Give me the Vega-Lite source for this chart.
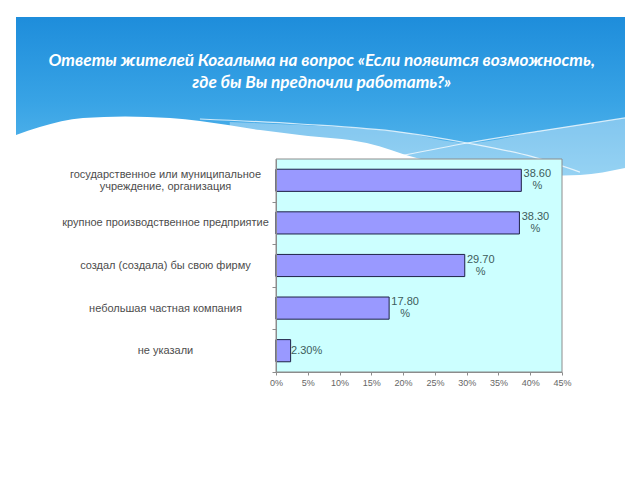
{
  "$schema": "https://vega.github.io/schema/vega-lite/v6.json",
  "width": 286,
  "height": 213,
  "autosize": "none",
  "padding": {"left": 276, "top": 159, "right": 78, "bottom": 108},
  "background": "white",
  "config": {"view": {"stroke": null}},
  "resolve": {"scale": {"x": "independent", "y": "independent"}, "axis": {"x": "independent", "y": "independent"}},
  "layer": [
    {
      "data": {"values": [{}]},
      "mark": {"type": "rect", "fill": {"gradient": "linear", "x1": 0, "y1": 0, "x2": 0, "y2": 1, "stops": [{"offset": 0, "color": "#1E8DDB"}, {"offset": 0.5, "color": "#38A3E5"}, {"offset": 1, "color": "#62BDEE"}]}},
      "encoding": {
        "x": {"datum": 0, "type": "quantitative", "scale": {"domain": [0, 100], "range": [-260, 349], "nice": false, "zero": false}, "axis": null},
        "x2": {"datum": 100},
        "y": {"datum": 0, "type": "quantitative", "scale": {"domain": [0, 100], "range": [-142, 26], "nice": false, "zero": false}, "axis": null},
        "y2": {"datum": 100}
      }
    },
    {
      "data": {"values": [
        {"x": 35.1, "y": 62.5}, {"x": 46.6, "y": 64.3}, {"x": 63.1, "y": 68.5}, {"x": 74.1, "y": 75},
        {"x": 86, "y": 67.9}, {"x": 100, "y": 60.1}
      ]},
      "mark": {"type": "area", "fill": "white", "fillOpacity": 0.35, "interpolate": "monotone"},
      "encoding": {
        "x": {"field": "x", "type": "quantitative", "scale": {"domain": [0, 100], "range": [-260, 349], "nice": false, "zero": false}, "axis": null},
        "y": {"field": "y", "type": "quantitative", "scale": {"domain": [0, 100], "range": [-142, 26], "nice": false, "zero": false}, "axis": null},
        "y2": {"datum": 100}
      }
    },
    {
      "data": {"values": [
        {"s": "a", "x": 30.2, "y": 60.7}, {"s": "a", "x": 46.6, "y": 63.7}, {"s": "a", "x": 63.1, "y": 68.5}, {"s": "a", "x": 74.1, "y": 75}, {"s": "a", "x": 84.9, "y": 83.3}, {"s": "a", "x": 92.6, "y": 92.3},
        {"s": "b", "x": 63.1, "y": 82.7}, {"s": "b", "x": 74.1, "y": 75}, {"s": "b", "x": 86, "y": 67.9}, {"s": "b", "x": 100, "y": 60.1}
      ]},
      "mark": {"type": "line", "stroke": "white", "strokeOpacity": 0.75, "strokeWidth": 1.2, "interpolate": "monotone"},
      "encoding": {
        "x": {"field": "x", "type": "quantitative", "scale": {"domain": [0, 100], "range": [-260, 349], "nice": false, "zero": false}, "axis": null},
        "y": {"field": "y", "type": "quantitative", "scale": {"domain": [0, 100], "range": [-142, 26], "nice": false, "zero": false}, "axis": null},
        "detail": {"field": "s", "type": "nominal"}
      }
    },
    {
      "data": {"values": [
        {"x": 0, "y": 70.2}, {"x": 3.9, "y": 65.5}, {"x": 11.0, "y": 60.1}, {"x": 17.9, "y": 59.2}, {"x": 25.3, "y": 60.1},
        {"x": 30.2, "y": 61.9}, {"x": 40.1, "y": 67.3}, {"x": 46.6, "y": 70.2}, {"x": 57.6, "y": 75}, {"x": 65.8, "y": 83.9},
        {"x": 74.5, "y": 89.9}, {"x": 84.4, "y": 94.6}, {"x": 92.6, "y": 94}, {"x": 100, "y": 89.9}
      ]},
      "mark": {"type": "area", "fill": "white", "interpolate": "monotone"},
      "encoding": {
        "x": {"field": "x", "type": "quantitative", "scale": {"domain": [0, 100], "range": [-260, 349], "nice": false, "zero": false}, "axis": null},
        "y": {"field": "y", "type": "quantitative", "scale": {"domain": [0, 100], "range": [-142, 26], "nice": false, "zero": false}, "axis": null},
        "y2": {"datum": 100}
      }
    },
    {
      "data": {"values": [{"t": "Ответы жителей Когалыма на вопрос  «Если появится возможность,\nгде бы Вы предпочли работать?»"}]},
      "mark": {"type": "text", "lineBreak": "\n", "lineHeight": 22, "align": "center", "baseline": "middle", "font": "Lato", "fontStyle": "italic", "fontWeight": "bold", "fontSize": 17.2, "color": "white"},
      "encoding": {
        "x": {"datum": 50.2, "type": "quantitative", "scale": {"domain": [0, 100], "range": [-260, 349], "nice": false, "zero": false}, "axis": null},
        "y": {"datum": 26.2, "type": "quantitative", "scale": {"domain": [0, 100], "range": [-142, 26], "nice": false, "zero": false}, "axis": null},
        "text": {"field": "t", "type": "nominal"}
      }
    },
    {
      "data": {"values": [{}]},
      "mark": {"type": "rect", "fill": "#CCFFFF", "stroke": "#8c8c8c", "strokeWidth": 1},
      "encoding": {
        "x": {"datum": 0, "type": "quantitative", "scale": {"domain": [0, 45], "nice": false}, "axis": null},
        "x2": {"datum": 45}
      }
    },
    {
      "data": {"name": "bars"},
      "mark": {"type": "bar", "fill": "#9999FF", "stroke": "#1f2347", "strokeWidth": 1},
      "encoding": {
        "y": {"field": "cat", "type": "nominal", "sort": null,
          "scale": {"paddingInner": 0.48, "paddingOuter": 0.24},
          "axis": {"title": null, "zindex": 2, "labelExpr": "split(datum.label, '|')", "labelAlign": "center", "labelBaseline": "middle",
            "labelOffset": {"condition": {"test": "indexof(datum.value, '|') >= 0", "value": -27.3}, "value": -21.3},
            "labelPadding": 107, "labelLimit": 0, "labelFont": "Liberation Sans", "labelFontSize": 11, "labelColor": "#4d4d4d", "labelLineHeight": 12.5,
            "tickOffset": 21.3, "tickSize": 4, "tickColor": "#8c8c8c", "domainColor": "#8c8c8c"}},
        "x": {"field": "value", "type": "quantitative",
          "scale": {"domain": [0, 45], "nice": false},
          "axis": {"title": null, "zindex": 2, "values": [0, 5, 10, 15, 20, 25, 30, 35, 40, 45], "labelExpr": "datum.value + '%'", "labelOverlap": false, "labelFlush": false, "grid": false, "labelFont": "Liberation Sans", "labelFontSize": 9, "labelColor": "#666666", "tickSize": 3, "tickColor": "#8c8c8c", "domainColor": "#8c8c8c", "labelPadding": 3}}
      }
    },
    {
      "data": {"name": "bars"},
      "transform": [{"filter": "indexof(datum.label, ' ') >= 0"}],
      "mark": {"type": "text", "align": "center", "baseline": "middle", "dx": 16, "dy": -6, "lineBreak": " ", "lineHeight": 12, "font": "Liberation Sans", "fontSize": 11, "color": "#3d5c5c"},
      "encoding": {
        "y": {"field": "cat", "type": "nominal", "sort": null, "axis": null,
          "scale": {"domain": ["государственное или муниципальное|учреждение, организация", "крупное производственное предприятие", "создал (создала) бы свою фирму", "небольшая частная компания", "не указали"], "paddingInner": 0.48, "paddingOuter": 0.24}},
        "x": {"field": "value", "type": "quantitative", "scale": {"domain": [0, 45], "nice": false}, "axis": null},
        "text": {"field": "label", "type": "nominal"}
      }
    },
    {
      "data": {"name": "bars"},
      "transform": [{"filter": "indexof(datum.label, ' ') < 0"}],
      "mark": {"type": "text", "align": "center", "baseline": "middle", "dx": 16, "font": "Liberation Sans", "fontSize": 11, "color": "#3d5c5c"},
      "encoding": {
        "y": {"field": "cat", "type": "nominal", "sort": null, "axis": null,
          "scale": {"domain": ["государственное или муниципальное|учреждение, организация", "крупное производственное предприятие", "создал (создала) бы свою фирму", "небольшая частная компания", "не указали"], "paddingInner": 0.48, "paddingOuter": 0.24}},
        "x": {"field": "value", "type": "quantitative", "scale": {"domain": [0, 45], "nice": false}, "axis": null},
        "text": {"field": "label", "type": "nominal"}
      }
    }
  ],
  "datasets": {
    "bars": [
      {"cat": "государственное или муниципальное|учреждение, организация", "value": 38.6, "label": "38.60 %"},
      {"cat": "крупное производственное предприятие", "value": 38.3, "label": "38.30 %"},
      {"cat": "создал (создала) бы свою фирму", "value": 29.7, "label": "29.70 %"},
      {"cat": "небольшая частная компания", "value": 17.8, "label": "17.80 %"},
      {"cat": "не указали", "value": 2.3, "label": "2.30%"}
    ]
  }
}
